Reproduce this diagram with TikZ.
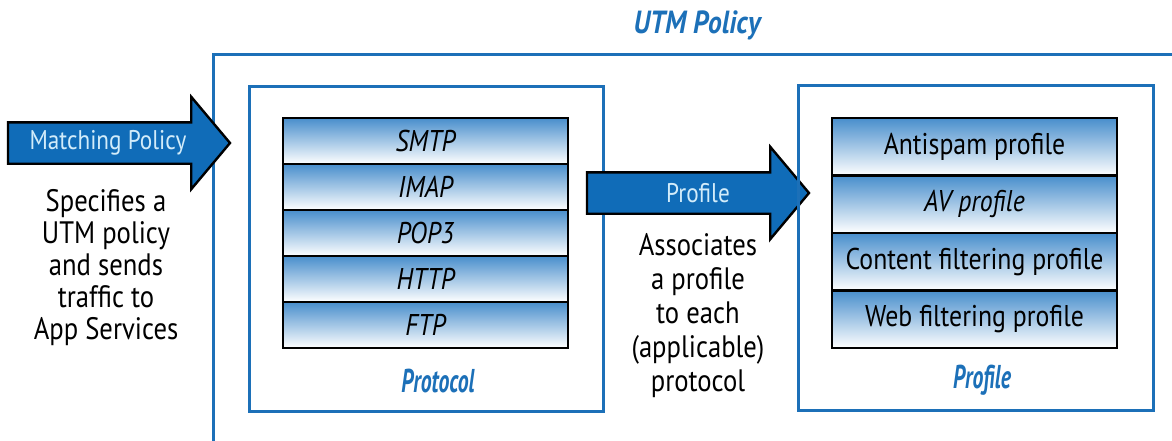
\documentclass[tikz,border=0pt]{standalone}
\usepackage{fontspec}
\setmainfont{PT Sans}[FakeStretch=0.86]
\usetikzlibrary{shapes.arrows,positioning}
\definecolor{utmblue}{RGB}{28,112,184}
\definecolor{arrowblue}{RGB}{16,108,184}
\definecolor{arrowtext}{RGB}{210,236,250}
\definecolor{rowblue}{RGB}{72,142,204}

\begin{document}
\begin{tikzpicture}[x=0.5pt, y=-0.5pt,
    panel/.style={draw=utmblue, line width=1.5pt, inner sep=0pt, outer sep=0pt},
    stackrow/.style={draw=black, line width=1.2pt, top color=rowblue, bottom color=white,
      minimum width=142.5pt, inner sep=0pt, outer sep=0pt},
    protorow/.style={stackrow, minimum height=23pt, font=\fontsize{15}{17}\selectfont\itshape},
    profrow/.style={stackrow, minimum height=28.75pt, font=\fontsize{15}{17}\selectfont},
    blockarrow/.style={single arrow, draw=black, line width=1.2pt, fill=arrowblue,
      single arrow head extend=12.75pt, single arrow tip angle=100, minimum height=111pt,
      text height=9pt, text depth=3pt, inner xsep=0pt, inner ysep=3.75pt, outer sep=0pt},
    arrowlabel/.style={text=arrowtext, font=\fontsize{13.5}{15}\selectfont},
    note/.style={align=center, font=\fontsize{15.5}{16}\selectfont},
    boxtitle/.style={text=utmblue, font=\fontsize{16.5}{18}\selectfont\bfseries\itshape\addfontfeature{FakeStretch=0.66}}]
  \useasboundingbox (0,0) rectangle (1172,440);
  % UTM policy frame, runs off the page
  \begin{scope}
    \clip (0,0) rectangle (1172,440);
    \draw[panel] (213,470) -- (213,54) -- (1200,54);
  \end{scope}
  \node[boxtitle, font=\fontsize{16}{18}\selectfont\bfseries\itshape] (utmtitle) at (697,25) {UTM Policy};
  % incoming arrow
  \node[blockarrow, anchor=tail] (matcharrow) at (8,143) {};
  \node[arrowlabel] (matchlabel) at (108,143) {Matching Policy};
  \node[note] (matchnote) at (106,268) {Specifies a\\UTM policy\\and sends\\traffic to\\App Services};
  % protocol panel
  \node[panel, minimum width=177pt, minimum height=162.5pt] (protopanel) at (426,248.5) {};
  \foreach \p [count=\i] in {SMTP,IMAP,POP3,HTTP,FTP}
    \node[protorow] (proto\i) at (425.5,{141+46*(\i-1)}) {\p};
  \node[boxtitle] (prototitle) at (438,381) {Protocol};
  % profile arrow
  \node[blockarrow, anchor=tail] (profarrow) at (587,193) {};
  \node[arrowlabel] (proflabel) at (698,193) {Profile};
  \node[note, font=\fontsize{15.5}{17}\selectfont] (profnote) at (698,316) {Associates\\a profile\\to each\\(applicable)\\protocol};
  % profile panel
  \node[panel, minimum width=177.5pt, minimum height=162.5pt] (profpanel) at (975.5,247.5) {};
  \node[profrow] (prof1) at (974.5,146.75) {Antispam profile};
  \node[profrow, below=0pt of prof1] (prof2) {\itshape AV profile};
  \node[profrow, below=0pt of prof2] (prof3) {Content filtering profile};
  \node[profrow, below=0pt of prof3] (prof4) {Web filtering profile};
  \node[boxtitle] (proftitle) at (982,380) {Profile};
\end{tikzpicture}
\end{document}
